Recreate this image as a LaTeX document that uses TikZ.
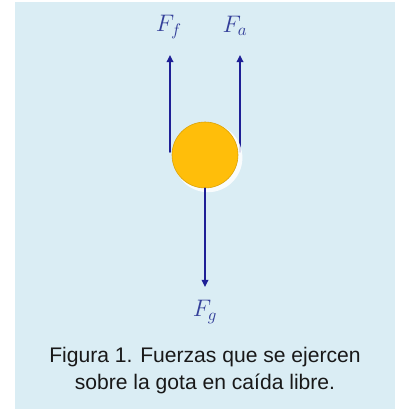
\documentclass[tikz,border=0pt]{standalone}
\usepackage{fontspec}
\usepackage{fix-cm}
\setmainfont{Liberation Sans}
\usetikzlibrary{arrows.meta}
\definecolor{fondo}{HTML}{DAEDF4}
\definecolor{flecha}{HTML}{1E1F96}
\definecolor{etiq}{HTML}{34409A}
\definecolor{oro}{HTML}{FFBE0A}
\begin{document}
\begin{tikzpicture}[x=1cm,y=1cm,line join=round,line cap=round,
    fuerza/.style={line width=1.4pt,flecha,-{Triangle[length=5pt,width=4.6pt]}},
    etq/.style={inner sep=0pt,text=etiq,font=\fontsize{17}{17}\selectfont},
    pie/.style={inner sep=0pt,text=black!90,font=\fontsize{15}{19}\selectfont}]

  \useasboundingbox (0,0) rectangle (10.10,10.225);
  \fill[fondo] (0.375,0) rectangle (9.875,10.175);

  % ======================= la gota e le forze =======================
  \coordinate (ff0) at (4.25,6.425);   % base di F_f
  \coordinate (ff1) at (4.25,8.85);    % punta di F_f
  \coordinate (fa0) at (6.00,6.425);   % base di F_a
  \coordinate (fa1) at (6.00,8.85);    % punta di F_a
  \coordinate (fg1) at (5.125,3.05);   % punta di F_g

  \draw[fuerza] (ff0) -- (ff1);
  \draw[fuerza] (fa0) -- (fa1);

  \fill[white,opacity=0.85] (5.20,6.28) circle (0.86);   % alone
  \node[circle,fill=oro,draw=oro!85!black,line width=0.4pt,
        minimum size=1.65cm,inner sep=0pt] (gota) at (5.125,6.35) {};

  \draw[fuerza] (gota.south) -- (fg1);

  \node[etq] (Ff) at (4.22,9.55)  {$F_f$};
  \node[etq] (Fa) at (5.875,9.58) {$F_a$};
  \node[etq] (Fg) at (5.125,2.42) {$F_g$};

  % ============================ didascalia ============================
  \node[pie,anchor=base] (l1) at (5.125,1.15)  {Figura 1. Fuerzas que se ejercen};
  \node[pie,anchor=base] (l2) at (5.125,0.475) {sobre la gota en caída libre.};

\end{tikzpicture}
\end{document}
